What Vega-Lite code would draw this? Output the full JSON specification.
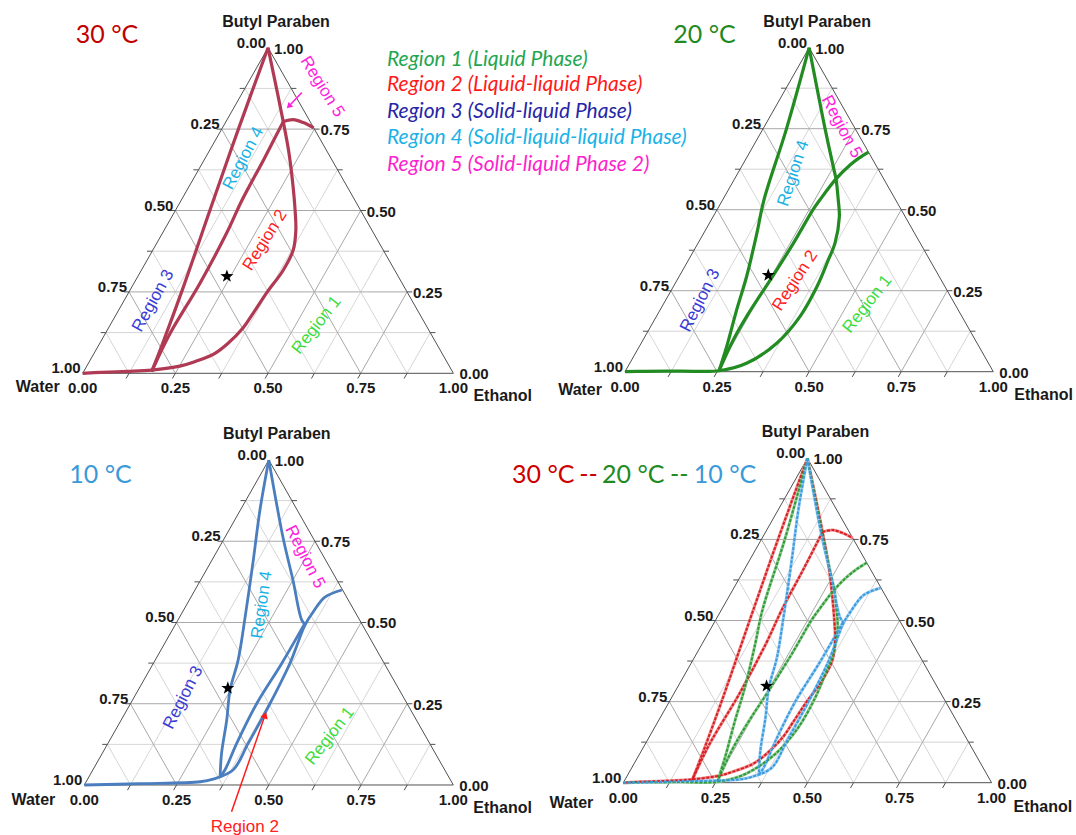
{
"$schema": "https://vega.github.io/schema/vega-lite/v6.json",
"padding": 0,
"background": "white",
"config": {"view": {"stroke": null}},
"datasets": {
"grid": [
{"m":0,"x":0.0625,"y":0.125,"x2":0.9375,"y2":0.125},{"m":1,"x":0.125,"y":0.25,"x2":0.875,"y2":0.25},{"m":0,"x":0.1875,"y":0.375,"x2":0.8125,"y2":0.375},{"m":1,"x":0.25,"y":0.5,"x2":0.75,"y2":0.5},{"m":0,"x":0.3125,"y":0.625,"x2":0.6875,"y2":0.625},{"m":1,"x":0.375,"y":0.75,"x2":0.625,"y2":0.75},{"m":0,"x":0.4375,"y":0.875,"x2":0.5625,"y2":0.875},
{"m":0,"x":0.125,"y":0,"x2":0.5625,"y2":0.875},{"m":1,"x":0.25,"y":0,"x2":0.625,"y2":0.75},{"m":0,"x":0.375,"y":0,"x2":0.6875,"y2":0.625},{"m":1,"x":0.5,"y":0,"x2":0.75,"y2":0.5},{"m":0,"x":0.625,"y":0,"x2":0.8125,"y2":0.375},{"m":1,"x":0.75,"y":0,"x2":0.875,"y2":0.25},{"m":0,"x":0.875,"y":0,"x2":0.9375,"y2":0.125},
{"m":0,"x":0.875,"y":0,"x2":0.4375,"y2":0.875},{"m":1,"x":0.75,"y":0,"x2":0.375,"y2":0.75},{"m":0,"x":0.625,"y":0,"x2":0.3125,"y2":0.625},{"m":1,"x":0.5,"y":0,"x2":0.25,"y2":0.5},{"m":0,"x":0.375,"y":0,"x2":0.1875,"y2":0.375},{"m":1,"x":0.25,"y":0,"x2":0.125,"y2":0.25},{"m":0,"x":0.125,"y":0,"x2":0.0625,"y2":0.125}
],
"edges": [
{"x":0,"y":0,"x2":1,"y2":0},{"x":0,"y":0,"x2":0.5,"y2":1},{"x":1,"y":0,"x2":0.5,"y2":1},
{"x":0.125,"y":0,"x2":0.117,"y2":-0.016},{"x":0.25,"y":0,"x2":0.242,"y2":-0.016},{"x":0.375,"y":0,"x2":0.367,"y2":-0.016},{"x":0.5,"y":0,"x2":0.492,"y2":-0.016},{"x":0.625,"y":0,"x2":0.617,"y2":-0.016},{"x":0.75,"y":0,"x2":0.742,"y2":-0.016},{"x":0.875,"y":0,"x2":0.867,"y2":-0.016},
{"x":0.0625,"y":0.125,"x2":0.0485,"y2":0.125},{"x":0.125,"y":0.25,"x2":0.111,"y2":0.25},{"x":0.1875,"y":0.375,"x2":0.1735,"y2":0.375},{"x":0.25,"y":0.5,"x2":0.236,"y2":0.5},{"x":0.3125,"y":0.625,"x2":0.2985,"y2":0.625},{"x":0.375,"y":0.75,"x2":0.361,"y2":0.75},{"x":0.4375,"y":0.875,"x2":0.4235,"y2":0.875},
{"x":0.9375,"y":0.125,"x2":0.9515,"y2":0.125},{"x":0.875,"y":0.25,"x2":0.889,"y2":0.25},{"x":0.8125,"y":0.375,"x2":0.8265,"y2":0.375},{"x":0.75,"y":0.5,"x2":0.764,"y2":0.5},{"x":0.6875,"y":0.625,"x2":0.7015,"y2":0.625},{"x":0.625,"y":0.75,"x2":0.639,"y2":0.75},{"x":0.5625,"y":0.875,"x2":0.5765,"y2":0.875}
],
"ticks": [
{"side":"L","x":0.5,"y":1,"text":"0.00"},{"side":"L","x":0.375,"y":0.75,"text":"0.25"},{"side":"L","x":0.25,"y":0.5,"text":"0.50"},{"side":"L","x":0.125,"y":0.25,"text":"0.75"},{"side":"L","x":0,"y":0,"text":"1.00"},
{"side":"R","x":0.5,"y":1,"text":"1.00"},{"side":"R","x":0.625,"y":0.75,"text":"0.75"},{"side":"R","x":0.75,"y":0.5,"text":"0.50"},{"side":"R","x":0.875,"y":0.25,"text":"0.25"},{"side":"R","x":1,"y":0,"text":"0.00"},
{"side":"B","x":0,"y":0,"text":"0.00"},{"side":"B","x":0.25,"y":0,"text":"0.25"},{"side":"B","x":0.5,"y":0,"text":"0.50"},{"side":"B","x":0.75,"y":0,"text":"0.75"},{"side":"B","x":1,"y":0,"text":"1.00"},
{"side":"P","x":0.5,"y":1,"text":"Butyl Paraben"},{"side":"W","x":0,"y":0,"text":"Water"},{"side":"E","x":1,"y":0,"text":"Ethanol"}
],
"star": [{"x":0.389,"y":0.298}],
"curves": [
{"t":"30","s":"L","i":0,"x":0.5,"y":1},{"t":"30","s":"L","i":1,"x":0.42,"y":0.75},{"t":"30","s":"L","i":2,"x":0.343,"y":0.5},{"t":"30","s":"L","i":3,"x":0.27,"y":0.26},{"t":"30","s":"L","i":4,"x":0.215,"y":0.09},{"t":"30","s":"L","i":5,"x":0.186,"y":0.005},
{"t":"30","s":"B","i":0,"x":0.541,"y":0.773},{"t":"30","s":"B","i":1,"x":0.49,"y":0.66},{"t":"30","s":"B","i":2,"x":0.43,"y":0.532},{"t":"30","s":"B","i":3,"x":0.388,"y":0.43},{"t":"30","s":"B","i":4,"x":0.316,"y":0.276},{"t":"30","s":"B","i":5,"x":0.236,"y":0.123},{"t":"30","s":"B","i":6,"x":0.2,"y":0.04},{"t":"30","s":"B","i":7,"x":0.186,"y":0.005},
{"t":"30","s":"R","i":0,"x":0.5,"y":1},{"t":"30","s":"R","i":1,"x":0.521,"y":0.885},{"t":"30","s":"R","i":2,"x":0.541,"y":0.773},{"t":"30","s":"R","i":3,"x":0.556,"y":0.68},{"t":"30","s":"R","i":4,"x":0.566,"y":0.59},{"t":"30","s":"R","i":5,"x":0.573,"y":0.5},{"t":"30","s":"R","i":6,"x":0.575,"y":0.44},{"t":"30","s":"R","i":7,"x":0.568,"y":0.379},{"t":"30","s":"R","i":8,"x":0.54,"y":0.315},{"t":"30","s":"R","i":9,"x":0.498,"y":0.25},{"t":"30","s":"R","i":10,"x":0.46,"y":0.185},{"t":"30","s":"R","i":11,"x":0.433,"y":0.14},{"t":"30","s":"R","i":12,"x":0.39,"y":0.09},{"t":"30","s":"R","i":13,"x":0.352,"y":0.058},{"t":"30","s":"R","i":14,"x":0.3,"y":0.035},{"t":"30","s":"R","i":15,"x":0.262,"y":0.022},{"t":"30","s":"R","i":16,"x":0.186,"y":0.01},{"t":"30","s":"R","i":17,"x":0.12,"y":0.006},{"t":"30","s":"R","i":18,"x":0.05,"y":0.003},{"t":"30","s":"R","i":19,"x":0,"y":0},
{"t":"30","s":"A","i":0,"x":0.541,"y":0.773},{"t":"30","s":"A","i":1,"x":0.568,"y":0.779},{"t":"30","s":"A","i":2,"x":0.595,"y":0.77},{"t":"30","s":"A","i":3,"x":0.623,"y":0.754},
{"t":"20","s":"L","i":0,"x":0.5,"y":1},{"t":"20","s":"L","i":1,"x":0.438,"y":0.748},{"t":"20","s":"L","i":2,"x":0.377,"y":0.529},{"t":"20","s":"L","i":3,"x":0.358,"y":0.427},{"t":"20","s":"L","i":4,"x":0.33,"y":0.293},{"t":"20","s":"L","i":5,"x":0.303,"y":0.19},{"t":"20","s":"L","i":6,"x":0.276,"y":0.077},{"t":"20","s":"L","i":7,"x":0.256,"y":0.005},
{"t":"20","s":"B","i":0,"x":0.661,"y":0.678},{"t":"20","s":"B","i":1,"x":0.636,"y":0.66},{"t":"20","s":"B","i":2,"x":0.611,"y":0.638},{"t":"20","s":"B","i":3,"x":0.573,"y":0.595},{"t":"20","s":"B","i":4,"x":0.529,"y":0.53},{"t":"20","s":"B","i":5,"x":0.511,"y":0.501},{"t":"20","s":"B","i":6,"x":0.457,"y":0.396},{"t":"20","s":"B","i":7,"x":0.403,"y":0.298},{"t":"20","s":"B","i":8,"x":0.33,"y":0.17},{"t":"20","s":"B","i":9,"x":0.294,"y":0.098},{"t":"20","s":"B","i":10,"x":0.256,"y":0.005},
{"t":"20","s":"R","i":0,"x":0.5,"y":1},{"t":"20","s":"R","i":1,"x":0.521,"y":0.877},{"t":"20","s":"R","i":2,"x":0.543,"y":0.751},{"t":"20","s":"R","i":3,"x":0.567,"y":0.625},{"t":"20","s":"R","i":4,"x":0.573,"y":0.595},{"t":"20","s":"R","i":5,"x":0.579,"y":0.53},{"t":"20","s":"R","i":6,"x":0.582,"y":0.478},{"t":"20","s":"R","i":7,"x":0.57,"y":0.396},{"t":"20","s":"R","i":8,"x":0.552,"y":0.345},{"t":"20","s":"R","i":9,"x":0.521,"y":0.262},{"t":"20","s":"R","i":10,"x":0.475,"y":0.17},{"t":"20","s":"R","i":11,"x":0.412,"y":0.088},{"t":"20","s":"R","i":12,"x":0.33,"y":0.026},{"t":"20","s":"R","i":13,"x":0.256,"y":0.003},{"t":"20","s":"R","i":14,"x":0.15,"y":0.002},{"t":"20","s":"R","i":15,"x":0.05,"y":0.001},{"t":"20","s":"R","i":16,"x":0,"y":0},
{"t":"10","s":"L","i":0,"x":0.5,"y":1},{"t":"10","s":"L","i":1,"x":0.476,"y":0.846},{"t":"10","s":"L","i":2,"x":0.458,"y":0.692},{"t":"10","s":"L","i":3,"x":0.436,"y":0.518},{"t":"10","s":"L","i":4,"x":0.417,"y":0.385},{"t":"10","s":"L","i":5,"x":0.395,"y":0.292},{"t":"10","s":"L","i":6,"x":0.386,"y":0.2},{"t":"10","s":"L","i":7,"x":0.372,"y":0.098},{"t":"10","s":"L","i":8,"x":0.368,"y":0.025},
{"t":"10","s":"R","i":0,"x":0.5,"y":1},{"t":"10","s":"R","i":1,"x":0.539,"y":0.759},{"t":"10","s":"R","i":2,"x":0.565,"y":0.633},{"t":"10","s":"R","i":3,"x":0.589,"y":0.508},{"t":"10","s":"R","i":4,"x":0.598,"y":0.495},
{"t":"10","s":"I","i":0,"x":0.368,"y":0.025},{"t":"10","s":"I","i":1,"x":0.381,"y":0.046},{"t":"10","s":"I","i":2,"x":0.413,"y":0.128},{"t":"10","s":"I","i":3,"x":0.467,"y":0.25},{"t":"10","s":"I","i":4,"x":0.535,"y":0.374},{"t":"10","s":"I","i":5,"x":0.598,"y":0.498},
{"t":"10","s":"O","i":0,"x":0,"y":0},{"t":"10","s":"O","i":1,"x":0.15,"y":0.004},{"t":"10","s":"O","i":2,"x":0.314,"y":0.01},{"t":"10","s":"O","i":3,"x":0.349,"y":0.018},{"t":"10","s":"O","i":4,"x":0.403,"y":0.046},{"t":"10","s":"O","i":5,"x":0.444,"y":0.128},{"t":"10","s":"O","i":6,"x":0.503,"y":0.25},{"t":"10","s":"O","i":7,"x":0.557,"y":0.374},{"t":"10","s":"O","i":8,"x":0.598,"y":0.492},{"t":"10","s":"O","i":9,"x":0.62,"y":0.532},{"t":"10","s":"O","i":10,"x":0.652,"y":0.578},{"t":"10","s":"O","i":11,"x":0.698,"y":0.6}
]
},
"columns": 2,
"spacing": 0,
"bounds": "flush",
"resolve": {"scale": {"x": "independent", "y": "independent", "color": "independent"}},
"concat": [
{"width": 540, "height": 415,
 "encoding": {"x": {"field":"x","type":"quantitative","scale":{"domain":[-0.22309,1.23361],"nice":false,"zero":false},"axis":null},
              "y": {"field":"y","type":"quantitative","scale":{"domain":[-0.12807,1.1465],"nice":false,"zero":false},"axis":null}},
 "layer": [
  {"data":{"name":"grid"},"transform":[{"filter":"datum.m==0"}],"mark":{"type":"rule","color":"#d6d6d6","strokeWidth":1},"encoding":{"x2":{"field":"x2"},"y2":{"field":"y2"}}},
  {"data":{"name":"grid"},"transform":[{"filter":"datum.m==1"}],"mark":{"type":"rule","color":"#a8a8a8","strokeWidth":1},"encoding":{"x2":{"field":"x2"},"y2":{"field":"y2"}}},
  {"data":{"name":"edges"},"mark":{"type":"rule","color":"#505050","strokeWidth":1},"encoding":{"x2":{"field":"x2"},"y2":{"field":"y2"}}},
  {"data":{"name":"curves"},"transform":[{"filter":"datum.t=='30'"}],"mark":{"type":"line","color":"#b03a54","strokeWidth":3.2,"interpolate":"catmull-rom"},"encoding":{"detail":{"field":"s"},"order":{"field":"i","type":"quantitative"}}},
  {"data":{"name":"ticks"},"transform":[{"filter":"datum.side=='L'"}],"mark":{"type":"text","align":"right","baseline":"middle","dx":-2,"dy":-5,"font":"Liberation Sans","fontWeight":"bold","fontSize":15,"color":"#1a1a1a"},"encoding":{"text":{"field":"text"}}},
  {"data":{"name":"ticks"},"transform":[{"filter":"datum.side=='R'"}],"mark":{"type":"text","align":"left","baseline":"middle","dx":6,"dy":1,"font":"Liberation Sans","fontWeight":"bold","fontSize":15,"color":"#1a1a1a"},"encoding":{"text":{"field":"text"}}},
  {"data":{"name":"ticks"},"transform":[{"filter":"datum.side=='B'"}],"mark":{"type":"text","align":"center","baseline":"middle","dy":15,"font":"Liberation Sans","fontWeight":"bold","fontSize":15,"color":"#1a1a1a"},"encoding":{"text":{"field":"text"}}},
  {"data":{"name":"ticks"},"transform":[{"filter":"datum.side=='P'"}],"mark":{"type":"text","align":"center","baseline":"middle","dx":8,"dy":-26,"font":"Liberation Sans","fontWeight":"bold","fontSize":16,"color":"#1a1a1a"},"encoding":{"text":{"field":"text"}}},
  {"data":{"name":"ticks"},"transform":[{"filter":"datum.side=='W'"}],"mark":{"type":"text","align":"right","baseline":"middle","dx":-23,"dy":14,"font":"Liberation Sans","fontWeight":"bold","fontSize":16,"color":"#1a1a1a"},"encoding":{"text":{"field":"text"}}},
  {"data":{"name":"ticks"},"transform":[{"filter":"datum.side=='E'"}],"mark":{"type":"text","align":"left","baseline":"middle","dx":20,"dy":23,"font":"Liberation Sans","fontWeight":"bold","fontSize":16,"color":"#1a1a1a"},"encoding":{"text":{"field":"text"}}},
  {"data":{"name":"star"},"mark":{"type":"point","shape":"M0,-1L0.235,-0.324L0.951,-0.309L0.38,0.124L0.588,0.809L0,0.4L-0.588,0.809L-0.38,0.124L-0.951,-0.309L-0.235,-0.324Z","filled":true,"color":"black","size":190,"opacity":1}},
  {"data":{"values":[{"x":0.0656,"y":1.039,"text":"30 °C"}]},"mark":{"type":"text","align":"center","baseline":"middle","font":"Lato","fontSize":25,"color":"#c00000"},"encoding":{"text":{"field":"text"}}},
  {"data":{"values":[{"x":0.8209,"y":0.962,"k":"1","text":"Region 1 (Liquid Phase)"},{"x":0.8209,"y":0.885,"k":"2","text":"Region 2 (Liquid-liquid  Phase)"},{"x":0.8209,"y":0.803,"k":"3","text":"Region 3 (Solid-liquid  Phase)"},{"x":0.8209,"y":0.722,"k":"4","text":"Region 4 (Solid-liquid-liquid  Phase)"},{"x":0.8209,"y":0.64,"k":"5","text":"Region 5 (Solid-liquid  Phase 2)"}]},
   "mark":{"type":"text","align":"left","baseline":"middle","font":"Lato","fontStyle":"italic","fontSize":21},
   "encoding":{"text":{"field":"text"},"color":{"field":"k","type":"nominal","scale":{"domain":["1","2","3","4","5"],"range":["#1fa64f","#ff1a1a","#2626a8","#1ab2e6","#ff1fcc"]},"legend":null}}},
  {"data":{"values":[{"x":0.646,"y":0.88,"text":"Region 5"}]},"mark":{"type":"text","angle":58,"align":"center","baseline":"middle","font":"Liberation Sans","fontSize":17,"color":"#ff22dd"},"encoding":{"text":{"field":"text"}}},
  {"data":{"values":[{"x":0.591,"y":0.862,"x2":0.556,"y2":0.82}]},"mark":{"type":"rule","color":"#ff22dd","strokeWidth":1.5},"encoding":{"x2":{"field":"x2"},"y2":{"field":"y2"}}},
  {"data":{"values":[{"x":0.556,"y":0.82}]},"mark":{"type":"point","shape":"triangle-up","angle":225,"filled":true,"color":"#ff22dd","size":45,"opacity":1}},
  {"data":{"values":[{"x":0.433,"y":0.66,"text":"Region 4"}]},"mark":{"type":"text","angle":-62,"align":"center","baseline":"middle","font":"Liberation Sans","fontSize":17,"color":"#1ab2e6"},"encoding":{"text":{"field":"text"}}},
  {"data":{"values":[{"x":0.492,"y":0.409,"text":"Region 2"}]},"mark":{"type":"text","angle":-58,"align":"center","baseline":"middle","font":"Liberation Sans","fontSize":17,"color":"#ff2020"},"encoding":{"text":{"field":"text"}}},
  {"data":{"values":[{"x":0.19,"y":0.223,"text":"Region 3"}]},"mark":{"type":"text","angle":-61,"align":"center","baseline":"middle","font":"Liberation Sans","fontSize":17,"color":"#3a3ad6"},"encoding":{"text":{"field":"text"}}},
  {"data":{"values":[{"x":0.631,"y":0.148,"text":"Region 1"}]},"mark":{"type":"text","angle":-52,"align":"center","baseline":"middle","font":"Liberation Sans","fontSize":17,"color":"#3cdc3c"},"encoding":{"text":{"field":"text"}}}
 ]},
{"width": 536, "height": 415,
 "encoding": {"x": {"field":"x","type":"quantitative","scale":{"domain":[-0.23079,1.22455],"nice":false,"zero":false},"axis":null},
              "y": {"field":"y","type":"quantitative","scale":{"domain":[-0.13364,1.14722],"nice":false,"zero":false},"axis":null}},
 "layer": [
  {"data":{"name":"grid"},"transform":[{"filter":"datum.m==0"}],"mark":{"type":"rule","color":"#d6d6d6","strokeWidth":1},"encoding":{"x2":{"field":"x2"},"y2":{"field":"y2"}}},
  {"data":{"name":"grid"},"transform":[{"filter":"datum.m==1"}],"mark":{"type":"rule","color":"#a8a8a8","strokeWidth":1},"encoding":{"x2":{"field":"x2"},"y2":{"field":"y2"}}},
  {"data":{"name":"edges"},"mark":{"type":"rule","color":"#505050","strokeWidth":1},"encoding":{"x2":{"field":"x2"},"y2":{"field":"y2"}}},
  {"data":{"name":"curves"},"transform":[{"filter":"datum.t=='20'"}],"mark":{"type":"line","color":"#228b22","strokeWidth":3.2,"interpolate":"catmull-rom"},"encoding":{"detail":{"field":"s"},"order":{"field":"i","type":"quantitative"}}},
  {"data":{"name":"ticks"},"transform":[{"filter":"datum.side=='L'"}],"mark":{"type":"text","align":"right","baseline":"middle","dx":-2,"dy":-5,"font":"Liberation Sans","fontWeight":"bold","fontSize":15,"color":"#1a1a1a"},"encoding":{"text":{"field":"text"}}},
  {"data":{"name":"ticks"},"transform":[{"filter":"datum.side=='R'"}],"mark":{"type":"text","align":"left","baseline":"middle","dx":6,"dy":1,"font":"Liberation Sans","fontWeight":"bold","fontSize":15,"color":"#1a1a1a"},"encoding":{"text":{"field":"text"}}},
  {"data":{"name":"ticks"},"transform":[{"filter":"datum.side=='B'"}],"mark":{"type":"text","align":"center","baseline":"middle","dy":15,"font":"Liberation Sans","fontWeight":"bold","fontSize":15,"color":"#1a1a1a"},"encoding":{"text":{"field":"text"}}},
  {"data":{"name":"ticks"},"transform":[{"filter":"datum.side=='P'"}],"mark":{"type":"text","align":"center","baseline":"middle","dx":8,"dy":-26,"font":"Liberation Sans","fontWeight":"bold","fontSize":16,"color":"#1a1a1a"},"encoding":{"text":{"field":"text"}}},
  {"data":{"name":"ticks"},"transform":[{"filter":"datum.side=='W'"}],"mark":{"type":"text","align":"right","baseline":"middle","dx":-23,"dy":18,"font":"Liberation Sans","fontWeight":"bold","fontSize":16,"color":"#1a1a1a"},"encoding":{"text":{"field":"text"}}},
  {"data":{"name":"ticks"},"transform":[{"filter":"datum.side=='E'"}],"mark":{"type":"text","align":"left","baseline":"middle","dx":21,"dy":23,"font":"Liberation Sans","fontWeight":"bold","fontSize":16,"color":"#1a1a1a"},"encoding":{"text":{"field":"text"}}},
  {"data":{"name":"star"},"mark":{"type":"point","shape":"M0,-1L0.235,-0.324L0.951,-0.309L0.38,0.124L0.588,0.809L0,0.4L-0.588,0.809L-0.38,0.124L-0.951,-0.309L-0.235,-0.324Z","filled":true,"color":"black","size":190,"opacity":1}},
  {"data":{"values":[{"x":0.2159,"y":1.039,"text":"20 °C"}]},"mark":{"type":"text","align":"center","baseline":"middle","font":"Lato","fontSize":25,"color":"#1f8a1f"},"encoding":{"text":{"field":"text"}}},
  {"data":{"values":[{"x":0.588,"y":0.756,"text":"Region 5"}]},"mark":{"type":"text","angle":62,"align":"center","baseline":"middle","font":"Liberation Sans","fontSize":17,"color":"#ff22dd"},"encoding":{"text":{"field":"text"}}},
  {"data":{"values":[{"x":0.457,"y":0.612,"text":"Region 4"}]},"mark":{"type":"text","angle":-72,"align":"center","baseline":"middle","font":"Liberation Sans","fontSize":17,"color":"#1ab2e6"},"encoding":{"text":{"field":"text"}}},
  {"data":{"values":[{"x":0.462,"y":0.281,"text":"Region 2"}]},"mark":{"type":"text","angle":-57,"align":"center","baseline":"middle","font":"Liberation Sans","fontSize":17,"color":"#ff2020"},"encoding":{"text":{"field":"text"}}},
  {"data":{"values":[{"x":0.204,"y":0.22,"text":"Region 3"}]},"mark":{"type":"text","angle":-63,"align":"center","baseline":"middle","font":"Liberation Sans","fontSize":17,"color":"#3a3ad6"},"encoding":{"text":{"field":"text"}}},
  {"data":{"values":[{"x":0.658,"y":0.209,"text":"Region 1"}]},"mark":{"type":"text","angle":-52,"align":"center","baseline":"middle","font":"Liberation Sans","fontSize":17,"color":"#3cdc3c"},"encoding":{"text":{"field":"text"}}}
 ]},
{"width": 540, "height": 420,
 "encoding": {"x": {"field":"x","type":"quantitative","scale":{"domain":[-0.22846,1.23496],"nice":false,"zero":false},"axis":null},
              "y": {"field":"y","type":"quantitative","scale":{"domain":[-0.15385,1.13846],"nice":false,"zero":false},"axis":null}},
 "layer": [
  {"data":{"name":"grid"},"transform":[{"filter":"datum.m==0"}],"mark":{"type":"rule","color":"#d6d6d6","strokeWidth":1},"encoding":{"x2":{"field":"x2"},"y2":{"field":"y2"}}},
  {"data":{"name":"grid"},"transform":[{"filter":"datum.m==1"}],"mark":{"type":"rule","color":"#a8a8a8","strokeWidth":1},"encoding":{"x2":{"field":"x2"},"y2":{"field":"y2"}}},
  {"data":{"name":"edges"},"mark":{"type":"rule","color":"#505050","strokeWidth":1},"encoding":{"x2":{"field":"x2"},"y2":{"field":"y2"}}},
  {"data":{"name":"curves"},"transform":[{"filter":"datum.t=='10'"}],"mark":{"type":"line","color":"#4a7ebf","strokeWidth":2.8,"interpolate":"catmull-rom"},"encoding":{"detail":{"field":"s"},"order":{"field":"i","type":"quantitative"}}},
  {"data":{"name":"ticks"},"transform":[{"filter":"datum.side=='L'"}],"mark":{"type":"text","align":"right","baseline":"middle","dx":-2,"dy":-5,"font":"Liberation Sans","fontWeight":"bold","fontSize":15,"color":"#1a1a1a"},"encoding":{"text":{"field":"text"}}},
  {"data":{"name":"ticks"},"transform":[{"filter":"datum.side=='R'"}],"mark":{"type":"text","align":"left","baseline":"middle","dx":6,"dy":1,"font":"Liberation Sans","fontWeight":"bold","fontSize":15,"color":"#1a1a1a"},"encoding":{"text":{"field":"text"}}},
  {"data":{"name":"ticks"},"transform":[{"filter":"datum.side=='B'"}],"mark":{"type":"text","align":"center","baseline":"middle","dy":15,"font":"Liberation Sans","fontWeight":"bold","fontSize":15,"color":"#1a1a1a"},"encoding":{"text":{"field":"text"}}},
  {"data":{"name":"ticks"},"transform":[{"filter":"datum.side=='P'"}],"mark":{"type":"text","align":"center","baseline":"middle","dx":8,"dy":-26,"font":"Liberation Sans","fontWeight":"bold","fontSize":16,"color":"#1a1a1a"},"encoding":{"text":{"field":"text"}}},
  {"data":{"name":"ticks"},"transform":[{"filter":"datum.side=='W'"}],"mark":{"type":"text","align":"right","baseline":"middle","dx":-29,"dy":15,"font":"Liberation Sans","fontWeight":"bold","fontSize":16,"color":"#1a1a1a"},"encoding":{"text":{"field":"text"}}},
  {"data":{"name":"ticks"},"transform":[{"filter":"datum.side=='E'"}],"mark":{"type":"text","align":"left","baseline":"middle","dx":20,"dy":23,"font":"Liberation Sans","fontWeight":"bold","fontSize":16,"color":"#1a1a1a"},"encoding":{"text":{"field":"text"}}},
  {"data":{"name":"star"},"mark":{"type":"point","shape":"M0,-1L0.235,-0.324L0.951,-0.309L0.38,0.124L0.588,0.809L0,0.4L-0.588,0.809L-0.38,0.124L-0.951,-0.309L-0.235,-0.324Z","filled":true,"color":"black","size":190,"opacity":1}},
  {"data":{"values":[{"x":0.0439,"y":0.954,"text":"10 °C"}]},"mark":{"type":"text","align":"center","baseline":"middle","font":"Lato","fontSize":25,"color":"#3a9ad8"},"encoding":{"text":{"field":"text"}}},
  {"data":{"values":[{"x":0.598,"y":0.702,"text":"Region 5"}]},"mark":{"type":"text","angle":63,"align":"center","baseline":"middle","font":"Liberation Sans","fontSize":17,"color":"#ff22dd"},"encoding":{"text":{"field":"text"}}},
  {"data":{"values":[{"x":0.481,"y":0.554,"text":"Region 4"}]},"mark":{"type":"text","angle":-82,"align":"center","baseline":"middle","font":"Liberation Sans","fontSize":17,"color":"#1ab2e6"},"encoding":{"text":{"field":"text"}}},
  {"data":{"values":[{"x":0.268,"y":0.269,"text":"Region 3"}]},"mark":{"type":"text","angle":-63,"align":"center","baseline":"middle","font":"Liberation Sans","fontSize":17,"color":"#3a3ad6"},"encoding":{"text":{"field":"text"}}},
  {"data":{"values":[{"x":0.666,"y":0.151,"text":"Region 1"}]},"mark":{"type":"text","angle":-52,"align":"center","baseline":"middle","font":"Liberation Sans","fontSize":17,"color":"#3cdc3c"},"encoding":{"text":{"field":"text"}}},
  {"data":{"values":[{"x":0.399,"y":-0.082,"x2":0.49,"y2":0.215}]},"mark":{"type":"rule","color":"#ff1a1a","strokeWidth":1.5},"encoding":{"x2":{"field":"x2"},"y2":{"field":"y2"}}},
  {"data":{"values":[{"x":0.49,"y":0.215}]},"mark":{"type":"point","shape":"triangle-up","angle":19,"filled":true,"color":"#ff1a1a","size":60,"opacity":1}},
  {"data":{"values":[{"x":0.435,"y":-0.128,"text":"Region 2"}]},"mark":{"type":"text","align":"center","baseline":"middle","font":"Liberation Sans","fontSize":17,"color":"#ff2020"},"encoding":{"text":{"field":"text"}}}
 ]},
{"width": 536, "height": 420,
 "resolve": {"scale": {"color": "independent"}},
 "encoding": {"x": {"field":"x","type":"quantitative","scale":{"domain":[-0.22617,1.22916],"nice":false,"zero":false},"axis":null},
              "y": {"field":"y","type":"quantitative","scale":{"domain":[-0.16122,1.13348],"nice":false,"zero":false},"axis":null}},
 "layer": [
  {"data":{"name":"grid"},"transform":[{"filter":"datum.m==0"}],"mark":{"type":"rule","color":"#d6d6d6","strokeWidth":1},"encoding":{"x2":{"field":"x2"},"y2":{"field":"y2"}}},
  {"data":{"name":"grid"},"transform":[{"filter":"datum.m==1"}],"mark":{"type":"rule","color":"#a8a8a8","strokeWidth":1},"encoding":{"x2":{"field":"x2"},"y2":{"field":"y2"}}},
  {"data":{"name":"edges"},"mark":{"type":"rule","color":"#505050","strokeWidth":1},"encoding":{"x2":{"field":"x2"},"y2":{"field":"y2"}}},
  {"data":{"name":"curves"},"mark":{"type":"line","strokeWidth":3,"opacity":1,"interpolate":"catmull-rom"},"encoding":{"color":{"field":"t","type":"nominal","scale":{"domain":["30","20","10"],"range":["#f08a8a","#93cc93","#9acdf0"]},"legend":null},"detail":{"field":"s"},"order":{"field":"i","type":"quantitative"}}},
  {"data":{"name":"curves"},"mark":{"type":"line","strokeWidth":2,"strokeDash":[3,1.5],"interpolate":"catmull-rom"},"encoding":{"color":{"field":"t","type":"nominal","scale":{"domain":["30","20","10"],"range":["#d61f25","#2f9a3a","#3a9ae0"]},"legend":null},"detail":{"field":"s"},"order":{"field":"i","type":"quantitative"}}},
  {"data":{"name":"ticks"},"transform":[{"filter":"datum.side=='L'"}],"mark":{"type":"text","align":"right","baseline":"middle","dx":-2,"dy":-5,"font":"Liberation Sans","fontWeight":"bold","fontSize":15,"color":"#1a1a1a"},"encoding":{"text":{"field":"text"}}},
  {"data":{"name":"ticks"},"transform":[{"filter":"datum.side=='R'"}],"mark":{"type":"text","align":"left","baseline":"middle","dx":6,"dy":1,"font":"Liberation Sans","fontWeight":"bold","fontSize":15,"color":"#1a1a1a"},"encoding":{"text":{"field":"text"}}},
  {"data":{"name":"ticks"},"transform":[{"filter":"datum.side=='B'"}],"mark":{"type":"text","align":"center","baseline":"middle","dy":15,"font":"Liberation Sans","fontWeight":"bold","fontSize":15,"color":"#1a1a1a"},"encoding":{"text":{"field":"text"}}},
  {"data":{"name":"ticks"},"transform":[{"filter":"datum.side=='P'"}],"mark":{"type":"text","align":"center","baseline":"middle","dx":8,"dy":-26,"font":"Liberation Sans","fontWeight":"bold","fontSize":16,"color":"#1a1a1a"},"encoding":{"text":{"field":"text"}}},
  {"data":{"name":"ticks"},"transform":[{"filter":"datum.side=='W'"}],"mark":{"type":"text","align":"right","baseline":"middle","dx":-30,"dy":20,"font":"Liberation Sans","fontWeight":"bold","fontSize":16,"color":"#1a1a1a"},"encoding":{"text":{"field":"text"}}},
  {"data":{"name":"ticks"},"transform":[{"filter":"datum.side=='E'"}],"mark":{"type":"text","align":"left","baseline":"middle","dx":22,"dy":24,"font":"Liberation Sans","fontWeight":"bold","fontSize":16,"color":"#1a1a1a"},"encoding":{"text":{"field":"text"}}},
  {"data":{"name":"star"},"mark":{"type":"point","shape":"M0,-1L0.235,-0.324L0.951,-0.309L0.38,0.124L0.588,0.809L0,0.4L-0.588,0.809L-0.38,0.124L-0.951,-0.309L-0.235,-0.324Z","filled":true,"color":"black","size":190,"opacity":1}},
  {"data":{"values":[{"x":-0.2172,"y":0.9485,"text":"30 °C"}]},"mark":{"type":"text","align":"center","baseline":"middle","font":"Lato","fontSize":25,"color":"#cc0000"},"encoding":{"text":{"field":"text"}}},
  {"data":{"values":[{"x":-0.0945,"y":0.9485,"text":"--"}]},"mark":{"type":"text","align":"center","baseline":"middle","font":"Lato","fontSize":25,"color":"#cc0000"},"encoding":{"text":{"field":"text"}}},
  {"data":{"values":[{"x":0.0272,"y":0.9485,"text":"20 °C"}]},"mark":{"type":"text","align":"center","baseline":"middle","font":"Lato","fontSize":25,"color":"#1f8a1f"},"encoding":{"text":{"field":"text"}}},
  {"data":{"values":[{"x":0.1518,"y":0.9485,"text":"--"}]},"mark":{"type":"text","align":"center","baseline":"middle","font":"Lato","fontSize":25,"color":"#1f8a1f"},"encoding":{"text":{"field":"text"}}},
  {"data":{"values":[{"x":0.2761,"y":0.9485,"text":"10 °C"}]},"mark":{"type":"text","align":"center","baseline":"middle","font":"Lato","fontSize":25,"color":"#3a9ad8"},"encoding":{"text":{"field":"text"}}}
 ]}
]
}
